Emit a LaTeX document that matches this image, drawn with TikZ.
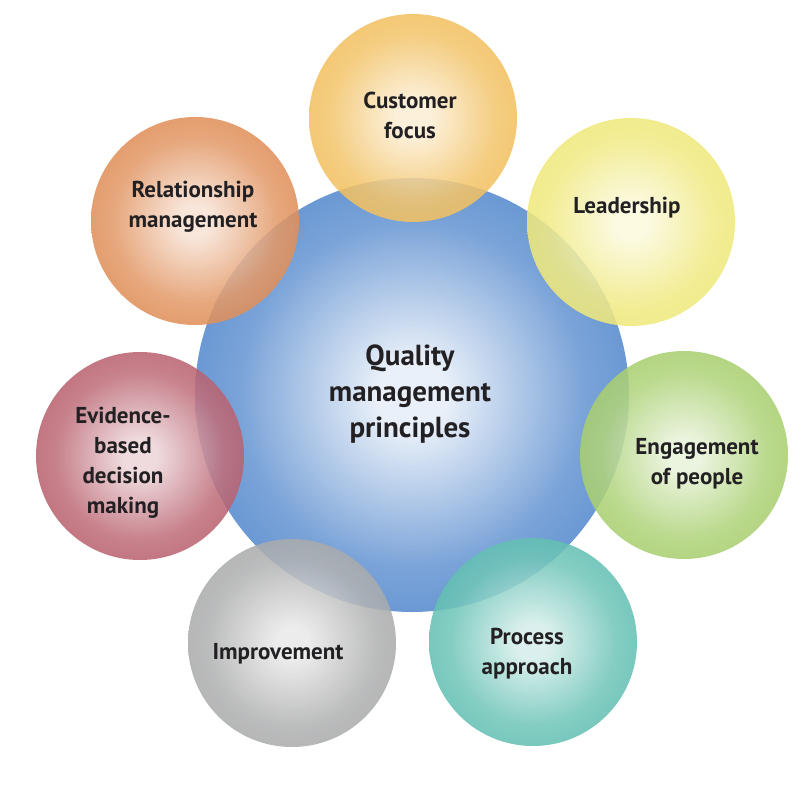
\documentclass[tikz,border=0pt]{standalone}
\usepackage{fontspec}
\setmainfont{PT Sans}
\definecolor{qualcol}{HTML}{4A82CA}
\definecolor{custcol}{HTML}{EFB442}
\definecolor{leadcol}{HTML}{ECE462}
\definecolor{engcol}{HTML}{98C654}
\definecolor{proccol}{HTML}{46B4A4}
\definecolor{impcol}{HTML}{9A9B9C}
\definecolor{evidcol}{HTML}{AC4454}
\definecolor{relcol}{HTML}{DA7A3A}
\definecolor{inkcol}{HTML}{222022}
\colorlet{bubblein}{white}
\colorlet{bubbleout}{gray}
\pgfdeclareradialshading[bubblein,bubbleout]{bubble}{\pgfpoint{0bp}{0bp}}{color(0bp)=(bubblein); color(4bp)=(bubblein); color(20bp)=(bubbleout!70!bubblein); color(36bp)=(bubbleout); color(47bp)=(bubbleout); color(50bp)=(bubbleout!92!black)}
\begin{document}
\begin{tikzpicture}[x=1pt, y=-1pt,
  bubble/.style={circle, inner sep=0pt, minimum size=208pt, shading=bubble, fill opacity=0.87,
    /utils/exec={\colorlet{bubbleout}{#1}\colorlet{bubblein}{#1!22!white}}},
  lbl/.style={align=center, text=inkcol, font=\fontsize{23}{30}\selectfont\bfseries}]
\useasboundingbox (0,0) rectangle (810,784);
\node[circle, inner sep=0pt, minimum size=434pt, shading=bubble, /utils/exec={\colorlet{bubbleout}{qualcol}\colorlet{bubblein}{qualcol!12!white}}] (qual) at (412,395){};
\node[bubble=custcol] (cust) at (413,118){};
\node[bubble=leadcol] (lead) at (631,222){};
\node[bubble=engcol] (eng) at (684,455){};
\node[bubble=proccol] (proc) at (533,642){};
\node[bubble=impcol] (imp) at (292,643){};
\node[bubble=evidcol] (evid) at (140,456){};
\node[bubble=relcol] (rel) at (195,221){};
\node[lbl, font=\fontsize{29}{36}\selectfont\bfseries] (qualtxt) at (410,394){Quality\\management\\principles};
\node[lbl] (custtxt) at (410,115){Customer\\focus};
\node[lbl] (leadtxt) at (627,208){Leadership};
\node[lbl] (engtxt) at (697,464){Engagement\\of people};
\node[lbl] (proctxt) at (527,654){Process\\approach};
\node[lbl] (imptxt) at (278,654){Improvement};
\node[lbl] (evidtxt) at (123,463){Evidence-\\based\\decision\\making};
\node[lbl] (reltxt) at (193,207){Relationship\\management};
\end{tikzpicture}
\end{document}
